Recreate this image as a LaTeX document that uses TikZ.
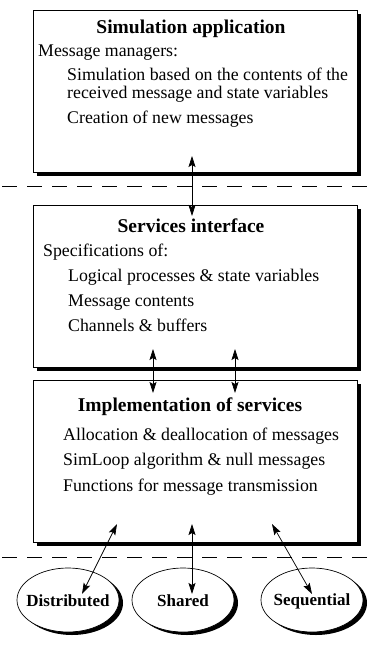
\documentclass[tikz,border=0pt]{standalone}
\usepackage{fontspec}
\setmainfont{Liberation Serif}
\usetikzlibrary{arrows.meta,shapes.geometric}

\begin{document}
\begin{tikzpicture}[x=1pt,y=-1pt,
  layerbox/.style={draw=black, line width=0.7pt, fill=white, minimum width=324pt,
    minimum height=162pt, anchor=north west, inner sep=0pt, outer sep=0pt},
  boxshadow/.style={fill=black, minimum width=324pt, minimum height=162pt,
    anchor=north west, inner sep=0pt, outer sep=0pt},
  heading/.style={font=\fontsize{19.5}{21}\selectfont\bfseries, anchor=base, inner sep=0pt},
  entry/.style={font=\fontsize{17.8}{19}\selectfont, anchor=base west, inner sep=0pt},
  oval/.style={ellipse, draw=black, line width=0.7pt, fill=white, minimum width=102pt,
    minimum height=64pt, inner sep=0pt},
  ovalshadow/.style={ellipse, fill=black, minimum width=102pt, minimum height=64pt, inner sep=0pt},
  ovaltext/.style={font=\fontsize{17}{19}\selectfont\bfseries, inner sep=0pt},
  sep/.style={line width=1pt, dash pattern=on 15pt off 10pt},
  link/.style={line width=0.7pt, {Stealth[length=11pt,width=7pt,inset=2pt]}-{Stealth[length=11pt,width=7pt,inset=2pt]}}
]
\useasboundingbox (0,0) rectangle (367,652);

% --- layer: simulation application
\node[boxshadow] (appS) at (37,14) {};
\node[layerbox] (app) at (33,10) {};
\node[heading] (appT) at (191,34) {Simulation application};
\node[entry] (appL1) at (38,57) {Message managers:};
\node[entry] (appL2) at (67,81) {Simulation based on the contents of the};
\node[entry] (appL3) at (67,99) {received message and state variables};
\node[entry] (appL4) at (67,124) {Creation of new messages};

% --- layer: services interface
\node[boxshadow] (sifS) at (37,209) {};
\node[layerbox] (sif) at (33,205) {};
\node[heading] (sifT) at (191,232) {Services interface};
\node[entry] (sifL1) at (43,256) {Specifications of:};
\node[entry] (sifL2) at (68,281) {Logical processes \& state variables};
\node[entry] (sifL3) at (68,306) {Message contents};
\node[entry] (sifL4) at (68,331) {Channels \& buffers};

% --- layer: implementation of services
\node[boxshadow] (impS) at (37,384) {};
\node[layerbox] (imp) at (33,380) {};
\node[heading] (impT) at (190,411) {Implementation of services};
\node[entry] (impL1) at (63,440) {Allocation \& deallocation of messages};
\node[entry] (impL2) at (63,465) {SimLoop algorithm \& null messages};
\node[entry] (impL3) at (63,491) {Functions for message transmission};

% --- platforms
\node[ovalshadow] (distS) at (72,603) {};
\node[oval] (dist) at (68,600) {};
\node[ovaltext] (distT) at (68,601) {Distributed};
\node[ovalshadow] (shrS) at (187,603) {};
\node[oval] (shr) at (183,600) {};
\node[ovaltext] (shrT) at (183,601) {Shared};
\node[ovalshadow] (seqS) at (316,603) {};
\node[oval] (seq) at (312,600) {};
\node[ovaltext] (seqT) at (312,601) {Sequential};

% --- level separators
\draw[sep] (2,187) -- (367,187);
\draw[sep] (2,557) -- (367,557);

% --- interactions between levels
\coordinate (p1) at (192,156);
\coordinate (q1) at (192,216);
\draw[link] (p1) -- (q1);

\coordinate (p2) at (153,349);
\coordinate (q2) at (153,393);
\draw[link] (p2) -- (q2);
\coordinate (p3) at (235,349);
\coordinate (q3) at (235,393);
\draw[link] (p3) -- (q3);

\coordinate (p4) at (117,524);
\coordinate (q4) at (82,594);
\draw[link] (p4) -- (q4);
\coordinate (p5) at (192,524);
\coordinate (q5) at (192,594);
\draw[link] (p5) -- (q5);
\coordinate (p6) at (272,524);
\coordinate (q6) at (312,594);
\draw[link] (p6) -- (q6);
\end{tikzpicture}
\end{document}
